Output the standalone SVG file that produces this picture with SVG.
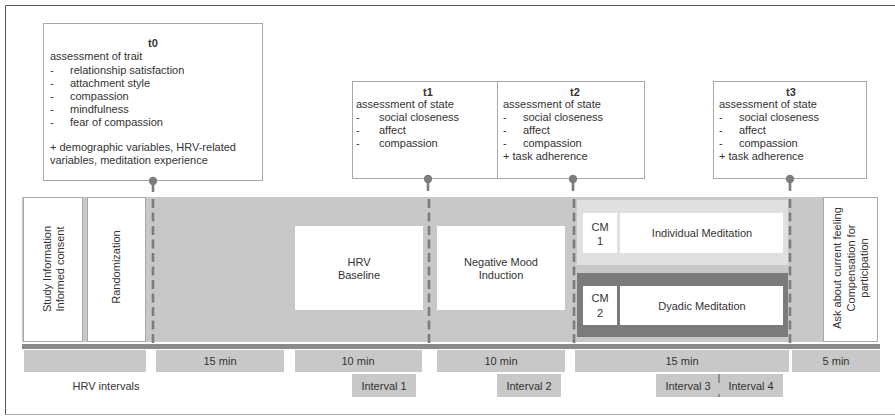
<svg xmlns="http://www.w3.org/2000/svg" width="895" height="416" viewBox="0 0 895 416">
<style>
text{font-family:"Liberation Sans",Arial,sans-serif;font-size:11px;fill:#333}
.b{font-weight:bold}
.m{text-anchor:middle}
.box{fill:#fff;stroke:#a8a8a8;stroke-width:1}
.gray{fill:#c8c8c8}
.dash{stroke:#7d7d7d;stroke-width:2.6;stroke-dasharray:9 4.5;fill:none}
.stem{stroke:#7d7d7d;stroke-width:2.6}
.pin{fill:#7d7d7d}
</style>
<rect width="895" height="416" fill="#fff"/>
<path d="M900 5.5H5.5V414.5H900" fill="none" stroke="#555" stroke-width="1"/>
<path d="M5.5 414.5H900" stroke="#aaa" stroke-width="1.2"/>

<g id="band">
<rect class="gray" x="22" y="197" width="801" height="145"/>
</g>

<g id="study">
<rect class="box" x="23.5" y="197.5" width="59" height="144"/>
<text class="m" transform="translate(51 269) rotate(-90)">Study Information</text>
<text class="m" transform="translate(64 269) rotate(-90)">Informed consent</text>
</g>
<g id="randomization">
<rect class="box" x="87.5" y="197.5" width="58" height="144"/>
<text class="m" transform="translate(120 267) rotate(-90)">Randomization</text>
</g>

<g id="hrv-baseline">
<rect fill="#fff" x="295" y="226" width="128" height="84"/>
<text class="m" x="359" y="266">HRV</text>
<text class="m" x="359" y="279">Baseline</text>
</g>
<g id="mood-induction">
<rect fill="#fff" x="437" y="226" width="128" height="84"/>
<text class="m" x="501" y="266">Negative Mood</text>
<text class="m" x="501" y="279">Induction</text>
</g>

<g id="individual">
<rect fill="#e0e0e0" x="577" y="200" width="211" height="65"/>
<rect fill="#fff" x="583" y="213" width="34" height="40"/>
<rect fill="#fff" x="620" y="213" width="163" height="40"/>
<text class="m" x="600" y="231">CM</text>
<text class="m" x="600" y="245">1</text>
<text class="m" x="702" y="237">Individual Meditation</text>
</g>
<g id="dyadic">
<rect fill="#7b7b7b" x="577" y="273" width="211" height="64"/>
<rect fill="#fff" x="583" y="286" width="34" height="39"/>
<rect fill="#fff" x="620" y="286" width="163" height="39"/>
<text class="m" x="600" y="302">CM</text>
<text class="m" x="600" y="317">2</text>
<text class="m" x="702" y="310">Dyadic Meditation</text>
</g>

<g id="final">
<rect class="box" x="823.5" y="197.5" width="54" height="144"/>
<text class="m" transform="translate(841 268) rotate(-90)">Ask about current feeling</text>
<text class="m" transform="translate(855 268) rotate(-90)">Compensation for</text>
<text class="m" transform="translate(868 268) rotate(-90)">participation</text>
</g>

<g id="t0">
<rect class="box" x="43.5" y="23.5" width="219" height="157"/>
<text class="m b" x="153" y="47">t0</text>
<text x="50" y="60">assessment of trait</text>
<text x="50" y="73.5">-</text><text x="70" y="73.5">relationship satisfaction</text>
<text x="50" y="86.5">-</text><text x="70" y="86.5">attachment style</text>
<text x="50" y="99.5">-</text><text x="70" y="99.5">compassion</text>
<text x="50" y="112.5">-</text><text x="70" y="112.5">mindfulness</text>
<text x="50" y="125.5">-</text><text x="70" y="125.5">fear of compassion</text>
<text x="50" y="151">+ demographic variables, HRV-related</text>
<text x="50" y="164">variables, meditation experience</text>
</g>

<g id="t1">
<rect class="box" x="352.5" y="81.5" width="145" height="97"/>
<text class="m b" x="428" y="96">t1</text>
<text x="356" y="108">assessment of state</text>
<text x="356" y="121">-</text><text x="379" y="121">social closeness</text>
<text x="356" y="134">-</text><text x="379" y="134">affect</text>
<text x="356" y="147">-</text><text x="379" y="147">compassion</text>
</g>
<g id="t2">
<rect class="box" x="497.5" y="81.5" width="147" height="97"/>
<text class="m b" x="575" y="96">t2</text>
<text x="503" y="108">assessment of state</text>
<text x="503" y="121">-</text><text x="523" y="121">social closeness</text>
<text x="503" y="134">-</text><text x="523" y="134">affect</text>
<text x="503" y="147">-</text><text x="523" y="147">compassion</text>
<text x="503" y="160">+ task adherence</text>
</g>
<g id="t3">
<rect class="box" x="713.5" y="81.5" width="153" height="97"/>
<text class="m b" x="791" y="96">t3</text>
<text x="719" y="108">assessment of state</text>
<text x="719" y="121">-</text><text x="739" y="121">social closeness</text>
<text x="719" y="134">-</text><text x="739" y="134">affect</text>
<text x="719" y="147">-</text><text x="739" y="147">compassion</text>
<text x="719" y="160">+ task adherence</text>
</g>

<g id="connectors">
<line class="stem" x1="153" y1="181" x2="153" y2="192"/><circle class="pin" cx="153" cy="181" r="4.2"/>
<line class="dash" x1="153" y1="199" x2="153" y2="343"/>
<line class="stem" x1="428" y1="179" x2="428" y2="191"/><circle class="pin" cx="428" cy="179" r="4.2"/>
<line class="dash" x1="429" y1="199" x2="429" y2="343"/>
<line class="stem" x1="573" y1="179" x2="573" y2="191"/><circle class="pin" cx="573" cy="179" r="4.2"/>
<line class="dash" x1="574" y1="199" x2="574" y2="343"/>
<line class="stem" x1="790" y1="179" x2="790" y2="191"/><circle class="pin" cx="790" cy="179" r="4.2"/>
<line class="dash" x1="790" y1="199" x2="790" y2="343"/>
</g>

<g id="timeline">
<rect fill="#8a8a8a" x="22" y="344" width="858" height="5"/>
</g>

<g id="durations">
<rect class="gray" x="24" y="350" width="122" height="22"/>
<rect class="gray" x="156" y="350" width="128" height="22"/>
<text class="m" x="220" y="365">15 min</text>
<rect class="gray" x="295" y="350" width="127" height="22"/>
<text class="m" x="358" y="365">10 min</text>
<rect class="gray" x="437" y="350" width="128" height="22"/>
<text class="m" x="501" y="365">10 min</text>
<rect class="gray" x="575" y="350" width="214" height="22"/>
<text class="m" x="682" y="365">15 min</text>
<rect class="gray" x="792" y="350" width="88" height="22"/>
<text class="m" x="836" y="365">5 min</text>
</g>

<g id="intervals">
<text class="m" x="106" y="390">HRV intervals</text>
<rect class="gray" x="352" y="374" width="64" height="23"/>
<text class="m" x="384" y="389.5">Interval 1</text>
<rect class="gray" x="497" y="374" width="64" height="23"/>
<text class="m" x="529" y="389.5">Interval 2</text>
<rect class="gray" x="656" y="374" width="127" height="23"/>
<text class="m" x="688" y="389.5">Interval 3</text>
<text class="m" x="751" y="389.5">Interval 4</text>
<line x1="719" y1="374" x2="719" y2="397" stroke="#888" stroke-width="1.8" stroke-dasharray="9 11"/>
</g>
</svg>
